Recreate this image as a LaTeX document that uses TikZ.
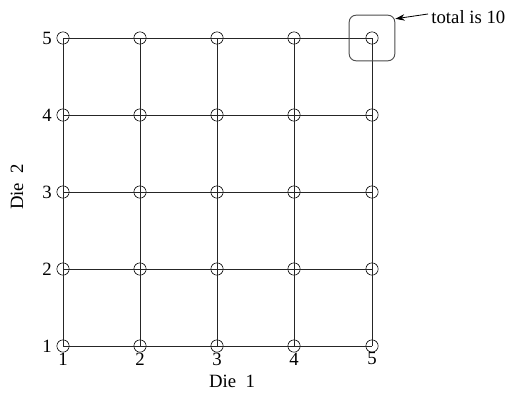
\documentclass[tikz,border=0pt]{standalone}
\usepackage{fontspec}
\setmainfont{Liberation Serif}
\usetikzlibrary{arrows.meta,positioning}
\tikzset{
  pt/.style   = {circle, draw=black, inner sep=0pt, minimum size=10.5, line width=0.5pt},
  gridln/.style = {draw=black!85, line width=0.5pt},
  hilite/.style = {draw=black!70, rounded corners=6, line width=0.8pt, minimum size=39, inner sep=0pt},
  ar/.style   = {-{Stealth[length=8pt,width=5.5pt]}, draw=black, line width=0.7pt},
  lbl/.style  = {font=\fontsize{16}{19}\selectfont, inner sep=1pt},
}

\begin{document}
\begin{tikzpicture}[x=0.03cm, y=-0.03cm]
  \useasboundingbox (0,0) rectangle (508,393);
  % grid points
  \foreach \i/\x in {1/63,2/140,3/217,4/294,5/372}
    \foreach \j/\y in {1/346,2/269,3/192,4/115,5/38}
      \node[pt] (p\i\j) at (\x,\y) {};
  % grid lines
  \foreach \k in {1,...,5} {
    \draw[gridln] (p1\k.center) -- (p5\k.center);
    \draw[gridln] (p\k1.center) -- (p\k5.center);
  }
  % tick labels
  \foreach \k in {1,...,5} {
    \node[lbl, left=3pt of p1\k.west, anchor=east] (ly\k) {\k};
    \node[lbl, below=-1pt of p\k1.south] (lx\k) {\k};
  }
  \node[lbl] (xtitle) at (232,381) {Die\ \ 1};
  \node[lbl, rotate=90] (ytitle) at (17,187) {Die\ \ 2};
  % highlighted outcome
  \node[hilite] (box) at (p55) {};
  \node[lbl, anchor=west] (total) at (430,17) {total is 10};
  \draw[ar] ([shift={(-2,-3)}]total.west) -- ([yshift=-3.5pt]box.north east);
\end{tikzpicture}
\end{document}
